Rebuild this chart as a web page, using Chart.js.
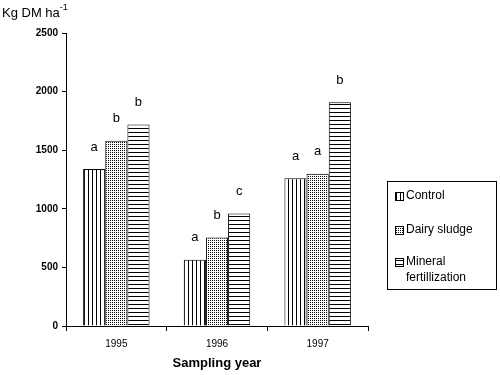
<!DOCTYPE html>
<html>
<head>
<meta charset="utf-8">
<script src="https://cdn.jsdelivr.net/npm/chart.js@4/dist/chart.umd.min.js"></script>
<style>
  html, body { margin: 0; padding: 0; background: #fff; }
  #wrap { width: 500px; height: 375px; position: relative; }
</style>
</head>
<body>
<div id="wrap"><canvas id="chart" width="500" height="375"></canvas></div>
<script>
// ── DATA ──
const years = ['1995', '1996', '1997'];
const control = [1340, 565, 1260];
const dairy = [1580, 755, 1300];
const mineral = [1720, 960, 1910];
const controlLetters = ['a', 'a', 'a'];
const dairyLetters = ['b', 'b', 'a'];
const mineralLetters = ['b', 'c', 'b'];
const yTicks = [0, 500, 1000, 1500, 2000, 2500];

const FONT = '"Liberation Sans", Arial, sans-serif';

// ── PATTERNS ──
function makePattern(kind) {
  const c = document.createElement('canvas');
  const ctx = c.getContext('2d');
  if (kind === 'vert') {
    c.width = 4; c.height = 4;
    ctx.fillStyle = '#fff'; ctx.fillRect(0, 0, 4, 4);
    ctx.fillStyle = '#000'; ctx.fillRect(0, 0, 1, 4);
  } else if (kind === 'dots') {
    c.width = 2; c.height = 2;
    ctx.fillStyle = '#fff'; ctx.fillRect(0, 0, 2, 2);
    ctx.fillStyle = '#000'; ctx.fillRect(0, 0, 1, 1);
  } else {
    c.width = 4; c.height = 4;
    ctx.fillStyle = '#fff'; ctx.fillRect(0, 0, 4, 4);
    ctx.fillStyle = '#000'; ctx.fillRect(0, 0, 4, 1);
  }
  return ctx.createPattern(c, 'repeat');
}
const patVert = makePattern('vert');
const patDots = makePattern('dots');
const patHorz = makePattern('horz');

// ── LETTERS + AXIS TITLE + LEGEND ──
const extras = {
  id: 'extras',
  afterDatasetsDraw(chart) {
    const ctx = chart.ctx;
    const letters = [controlLetters, dairyLetters, mineralLetters];
    ctx.save();
    ctx.fillStyle = '#000';
    ctx.font = '13px ' + FONT;
    ctx.textAlign = 'center';
    ctx.textBaseline = 'middle';
    chart.data.datasets.forEach((ds, i) => {
      chart.getDatasetMeta(i).data.forEach((bar, j) => {
        ctx.fillText(letters[i][j], bar.x, bar.y - 22);
      });
    });

    // y-axis title
    ctx.textAlign = 'left';
    ctx.textBaseline = 'alphabetic';
    ctx.font = '13px ' + FONT;
    ctx.fillText('Kg DM ha', 2, 17);
    const w = ctx.measureText('Kg DM ha').width;
    ctx.font = '9px ' + FONT;
    ctx.fillText('-1', 2 + w, 10);

    // legend
    ctx.strokeStyle = '#000';
    ctx.lineWidth = 1;
    ctx.strokeRect(387.5, 181.5, 109, 108);
    const items = [
      { pat: patVert, lines: ['Control'], y: 196 },
      { pat: patDots, lines: ['Dairy sludge'], y: 230 },
      { pat: patHorz, lines: ['Mineral', 'fertillization'], y: 262 }
    ];
    ctx.font = '12px ' + FONT;
    ctx.textBaseline = 'middle';
    items.forEach(it => {
      ctx.fillStyle = it.pat;
      ctx.fillRect(395, it.y - 4, 8, 8);
      ctx.strokeRect(395.5, it.y - 3.5, 8, 8);
      ctx.fillStyle = '#000';
      it.lines.forEach((t, k) => ctx.fillText(t, 406, it.y + k * 16));
    });
    ctx.restore();
  }
};

new Chart(document.getElementById('chart'), {
  type: 'bar',
  data: {
    labels: years,
    datasets: [
      { label: 'Control', data: control, backgroundColor: patVert },
      { label: 'Dairy sludge', data: dairy, backgroundColor: patDots },
      { label: 'Mineral fertillization', data: mineral, backgroundColor: patHorz }
    ].map(d => Object.assign(d, { borderColor: '#000', borderWidth: 1, borderSkipped: 'bottom' }))
  },
  options: {
    responsive: false,
    animation: false,
    devicePixelRatio: 1,
    layout: { padding: { top: 33, right: 132, left: 0, bottom: 0 } },
    datasets: { bar: { categoryPercentage: 0.66, barPercentage: 1 } },
    plugins: { legend: { display: false }, tooltip: { enabled: false } },
    scales: {
      x: {
        grid: { drawOnChartArea: false, drawTicks: true, tickLength: 5, color: '#000', offset: true },
        border: { display: true, color: '#000', width: 1 },
        ticks: { color: '#000', font: { family: FONT, size: 10 }, padding: 7 },
        title: { display: true, text: 'Sampling year', color: '#000', font: { family: FONT, size: 13, weight: 'bold' }, padding: { top: 6 } },
        afterFit: s => { s.height = 49; }
      },
      y: {
        min: 0, max: 2500,
        afterBuildTicks: s => { s.ticks = yTicks.map(v => ({ value: v })); },
        grid: { drawOnChartArea: false, drawTicks: true, tickLength: 4, color: '#000' },
        border: { display: true, color: '#000', width: 1 },
        ticks: { color: '#000', font: { family: FONT, size: 10, weight: 'bold' }, padding: 4, callback: v => String(v) },
        afterFit: s => { s.width = 66; }
      }
    }
  },
  plugins: [extras]
});
</script>
</body>
</html>
